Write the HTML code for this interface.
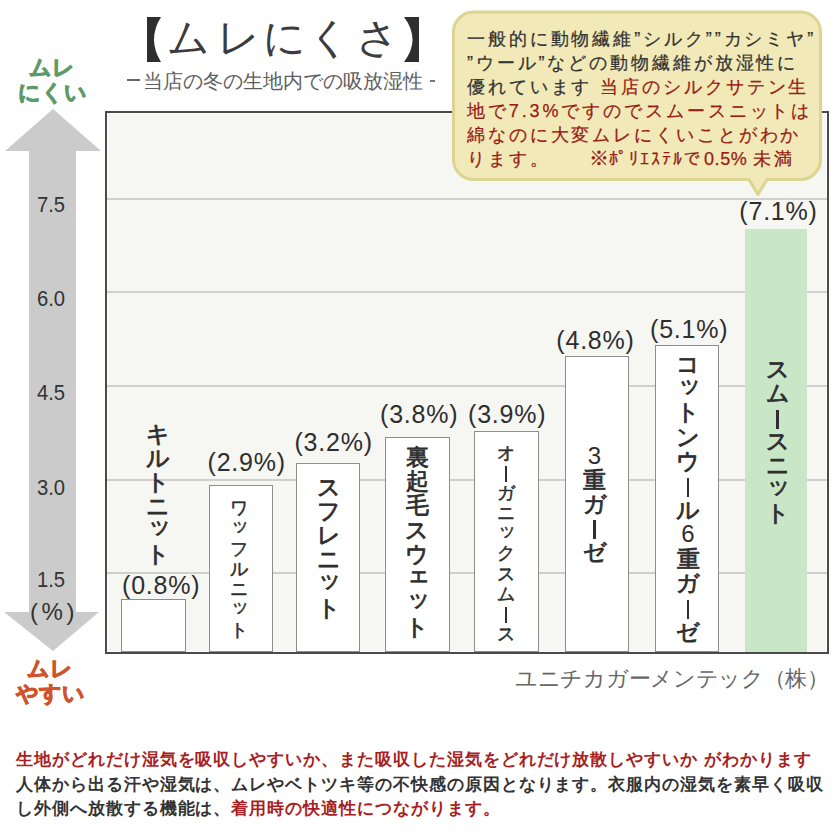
<!DOCTYPE html>
<html lang="ja"><head><meta charset="utf-8">
<style>
html,body{margin:0;padding:0;background:#fff;}
body{width:840px;height:840px;position:relative;overflow:hidden;font-family:"Liberation Sans",sans-serif;color:#333;}
.a{position:absolute;white-space:nowrap;}
.serif{font-family:"Liberation Serif",serif;}
.tk{position:absolute;top:16.5px;width:60px;text-align:center;font-size:42px;line-height:1;color:#3c3c3c;font-family:"Liberation Serif",serif;}
#sub{left:142.5px;top:71px;font-size:20px;color:#5e5e5e;line-height:1;}
#subd{left:127px;top:79px;width:13px;height:1.5px;background:#666;}
#sube{left:430px;top:80px;width:5px;height:1.5px;background:#777;}
.lbl{font-size:22px;font-weight:bold;line-height:25px;text-align:center;-webkit-text-stroke:0.9px currentColor;}
#chart{left:105px;top:111px;width:720px;height:539px;background:#f6f6f2;border:2px solid #4a4a4a;box-shadow:inset 0 0 0 1px #fff;}
.grid{position:absolute;left:0;width:720px;height:2px;background:#cfcfcc;}
.bar{position:absolute;background:#fff;border:1px solid #8d8d8d;box-sizing:border-box;}
.pct{position:absolute;font-size:25px;color:#2e2e2e;line-height:1;white-space:nowrap;letter-spacing:0.8px;}
.stk{position:absolute;width:40px;text-align:center;color:#2e2e2e;white-space:nowrap;}
.vb{display:inline-block;width:2.8px;background:currentColor;vertical-align:middle;}
.b{-webkit-text-stroke:0.8px currentColor;}
.sk{position:relative;}
.dg{-webkit-text-stroke:0;font-size:24px;}
.thin{-webkit-text-stroke:0.5px currentColor;}
.yl{position:absolute;font-size:22px;color:#333;text-align:center;width:60px;left:21px;line-height:1;transform:scaleX(0.92);}

.btl{position:absolute;white-space:nowrap;left:467px;font-size:18px;line-height:24px;color:#333;letter-spacing:2.9px;-webkit-text-stroke:0.25px currentColor;}
.red{color:#981b14;}
#foot{left:16px;top:748px;font-size:17px;line-height:24.5px;font-weight:bold;color:#333;letter-spacing:0.95px;}
</style></head>
<body>
<svg class="a" style="left:0;top:0" width="440" height="70">
<path d="M147,17 L161,17 Q147,39.5 161,62 L147,62 Z" fill="#2e2e2e"/>
<path d="M419,17 L404,17 Q421,39.5 404,62 L419,62 Z" fill="#2e2e2e"/>
</svg>
<div class="tk" style="left:158.5px">ム</div>
<div class="tk" style="left:208px">レ</div>
<div class="tk" style="left:254px">に</div>
<div class="tk" style="left:299.3px">く</div>
<div class="tk" style="left:347.2px">さ</div>
<div id="subd" class="a"></div><div id="sub" class="a serif">当店の冬の生地内での吸放湿性</div><div id="sube" class="a"></div>

<div class="a lbl" style="left:14px;top:55px;width:76px;color:#5f9a6b;">ムレ<br>にくい</div>

<svg class="a" style="left:0;top:0" width="110" height="660">
<polygon fill="#cbcbcb" points="53,109 101,151 76,151 76,612 99,612 53,651 4,612 29,612 29,151 5,151"/>
</svg>

<div class="yl" style="top:194px">7.5</div>
<div class="yl" style="top:288px">6.0</div>
<div class="yl" style="top:382px">4.5</div>
<div class="yl" style="top:477px">3.0</div>
<div class="yl" style="top:569px">1.5</div>
<div class="yl" style="top:600px;font-size:24px;letter-spacing:3.5px;left:24px;transform:none">(%)</div>

<div id="chart" class="a">
  <div class="grid" style="top:85px"></div>
  <div class="grid" style="top:178px"></div>
  <div class="grid" style="top:272px"></div>
  <div class="grid" style="top:366px"></div>
  <div class="grid" style="top:459px"></div>
</div>

<div class="bar" style="left:121px;top:599px;width:65px;height:53px"></div>
<div class="bar" style="left:209px;top:485px;width:64px;height:167px"></div>
<div class="bar" style="left:296px;top:463px;width:64px;height:189px"></div>
<div class="bar" style="left:385px;top:437px;width:65px;height:215px"></div>
<div class="bar" style="left:474px;top:431px;width:65px;height:221px"></div>
<div class="bar" style="left:565px;top:356px;width:64px;height:296px"></div>
<div class="bar" style="left:655px;top:345px;width:64px;height:307px"></div>
<div class="bar" style="left:745px;top:229px;width:62px;height:423px;background:#c9e7c7;border:none"></div>
<div class="pct" style="left:122.0px;top:573.0px">(0.8%)</div>
<div class="pct" style="left:207.5px;top:450.0px">(2.9%)</div>
<div class="pct" style="left:294.4px;top:430.0px">(3.2%)</div>
<div class="pct" style="left:380.0px;top:401.8px">(3.8%)</div>
<div class="pct" style="left:468.0px;top:401.8px">(3.9%)</div>
<div class="pct" style="left:556.3px;top:328.0px">(4.8%)</div>
<div class="pct" style="left:650.0px;top:316.5px">(5.1%)</div>
<div class="pct" style="left:739.3px;top:199.0px">(7.1%)</div>
<div class="stk b" style="left:138.0px;top:421.8px;font-size:23px;line-height:24.00px;color:#2e2e2e">キ<br>ル<br>ト<br>ニ<br><span class="sk" style="top:-4.4px;left:1.8px">ッ</span><br>ト</div>
<div class="stk thin" style="left:219.0px;top:498.0px;font-size:18px;line-height:20.30px;color:#2e2e2e">ワ<br><span class="sk" style="top:-3.4px;left:1.4px">ッ</span><br>フ<br>ル<br>ニ<br><span class="sk" style="top:-3.4px;left:1.4px">ッ</span><br>ト</div>
<div class="stk b" style="left:308.5px;top:474.5px;font-size:23px;line-height:24.30px;color:#2e2e2e">ス<br>フ<br>レ<br>ニ<br><span class="sk" style="top:-4.4px;left:1.8px">ッ</span><br>ト</div>
<div class="stk b" style="left:397.0px;top:444.7px;font-size:23px;line-height:24.30px;color:#2e2e2e">裏<br>起<br>毛<br>ス<br>ウ<br><span class="sk" style="top:-4.4px;left:1.8px">ェ</span><br><span class="sk" style="top:-4.4px;left:1.8px">ッ</span><br>ト</div>
<div class="stk thin" style="left:486.0px;top:443.0px;font-size:18px;line-height:20.10px;color:#2e2e2e">オ<br><i class="vb" style="height:16px"></i><br>ガ<br>ニ<br><span class="sk" style="top:-3.4px;left:1.4px">ッ</span><br>ク<br>ス<br>ム<br><i class="vb" style="height:16px"></i><br>ス</div>
<div class="stk b" style="left:574.5px;top:444.0px;font-size:23px;line-height:24.00px;color:#2e2e2e"><span class="dg">3</span><br>重<br>ガ<br><i class="vb" style="height:19px"></i><br>ゼ</div>
<div class="stk b" style="left:668.0px;top:351.6px;font-size:23px;line-height:24.40px;color:#2e2e2e">コ<br><span class="sk" style="top:-4.4px;left:1.8px">ッ</span><br>ト<br>ン<br>ウ<br><i class="vb" style="height:19px"></i><br>ル<br><span class="dg">6</span><br>重<br>ガ<br><i class="vb" style="height:19px"></i><br>ゼ</div>
<div class="stk b" style="left:757.5px;top:357.3px;font-size:23px;line-height:24.00px;color:#2e2e2e">ス<br>ム<br><i class="vb" style="height:19px"></i><br>ス<br>ニ<br><span class="sk" style="top:-4.4px;left:1.8px">ッ</span><br>ト</div>


<div class="a lbl" style="left:0;top:655.5px;width:100px;color:#d0532a;">ムレ<br>やすい</div>

<div class="a serif" style="left:515px;top:664px;font-size:21.5px;color:#666;letter-spacing:-0.3px;">ユニチカガーメンテック（株）</div>

<svg class="a" style="left:0;top:0" width="840" height="200">
<path d="M473.5,12 H800.5 A20,20 0 0 1 820.5,32 V159.5 A20,20 0 0 1 800.5,179.5 H767 L758,194.5 L749,179.5 H473.5 A20,20 0 0 1 453.5,159.5 V32 A20,20 0 0 1 473.5,12 Z" fill="#f1eab8" stroke="#dcd491" stroke-width="3" stroke-linejoin="round"/>
</svg>
<div class="btl" style="top:27px">一般的に動物繊維”シルク””カシミヤ”</div>
<div class="btl" style="top:51px">”ウール”などの動物繊維が放湿性に</div>
<div class="btl" style="top:75px">優れています <span class="red">当店のシルクサテン生</span></div>
<div class="btl red" style="top:99px">地で7.3%ですのでスムースニットは</div>
<div class="btl red" style="top:123px">綿なのに大変ムレにくいことがわか</div>
<div class="btl red" style="top:147px">ります。</div>
<div class="btl red" style="top:146px;left:589px;letter-spacing:0px;font-size:20px">※</div>
<div class="btl red" style="top:147px;left:608.5px;letter-spacing:2px">ﾎﾟﾘｴｽﾃﾙで</div>
<div class="btl red" style="top:147px;left:704px;letter-spacing:0.6px">0.5%</div>
<div class="btl red" style="top:147px;left:753px;letter-spacing:2.5px">未満</div>

<div id="foot" class="a"><span class="red" style="color:#a81e22">生地がどれだけ湿気を吸収しやすいか、また吸収した湿気をどれだけ放散しやすいか がわかります</span><br>人体から出る汗や湿気は、ムレやベトツキ等の不快感の原因となります。衣服内の湿気を素早く吸収<br>し外側へ放散する機能は、<span class="red" style="color:#a81e22">着用時の快適性につながります。</span></div>
</body></html>
